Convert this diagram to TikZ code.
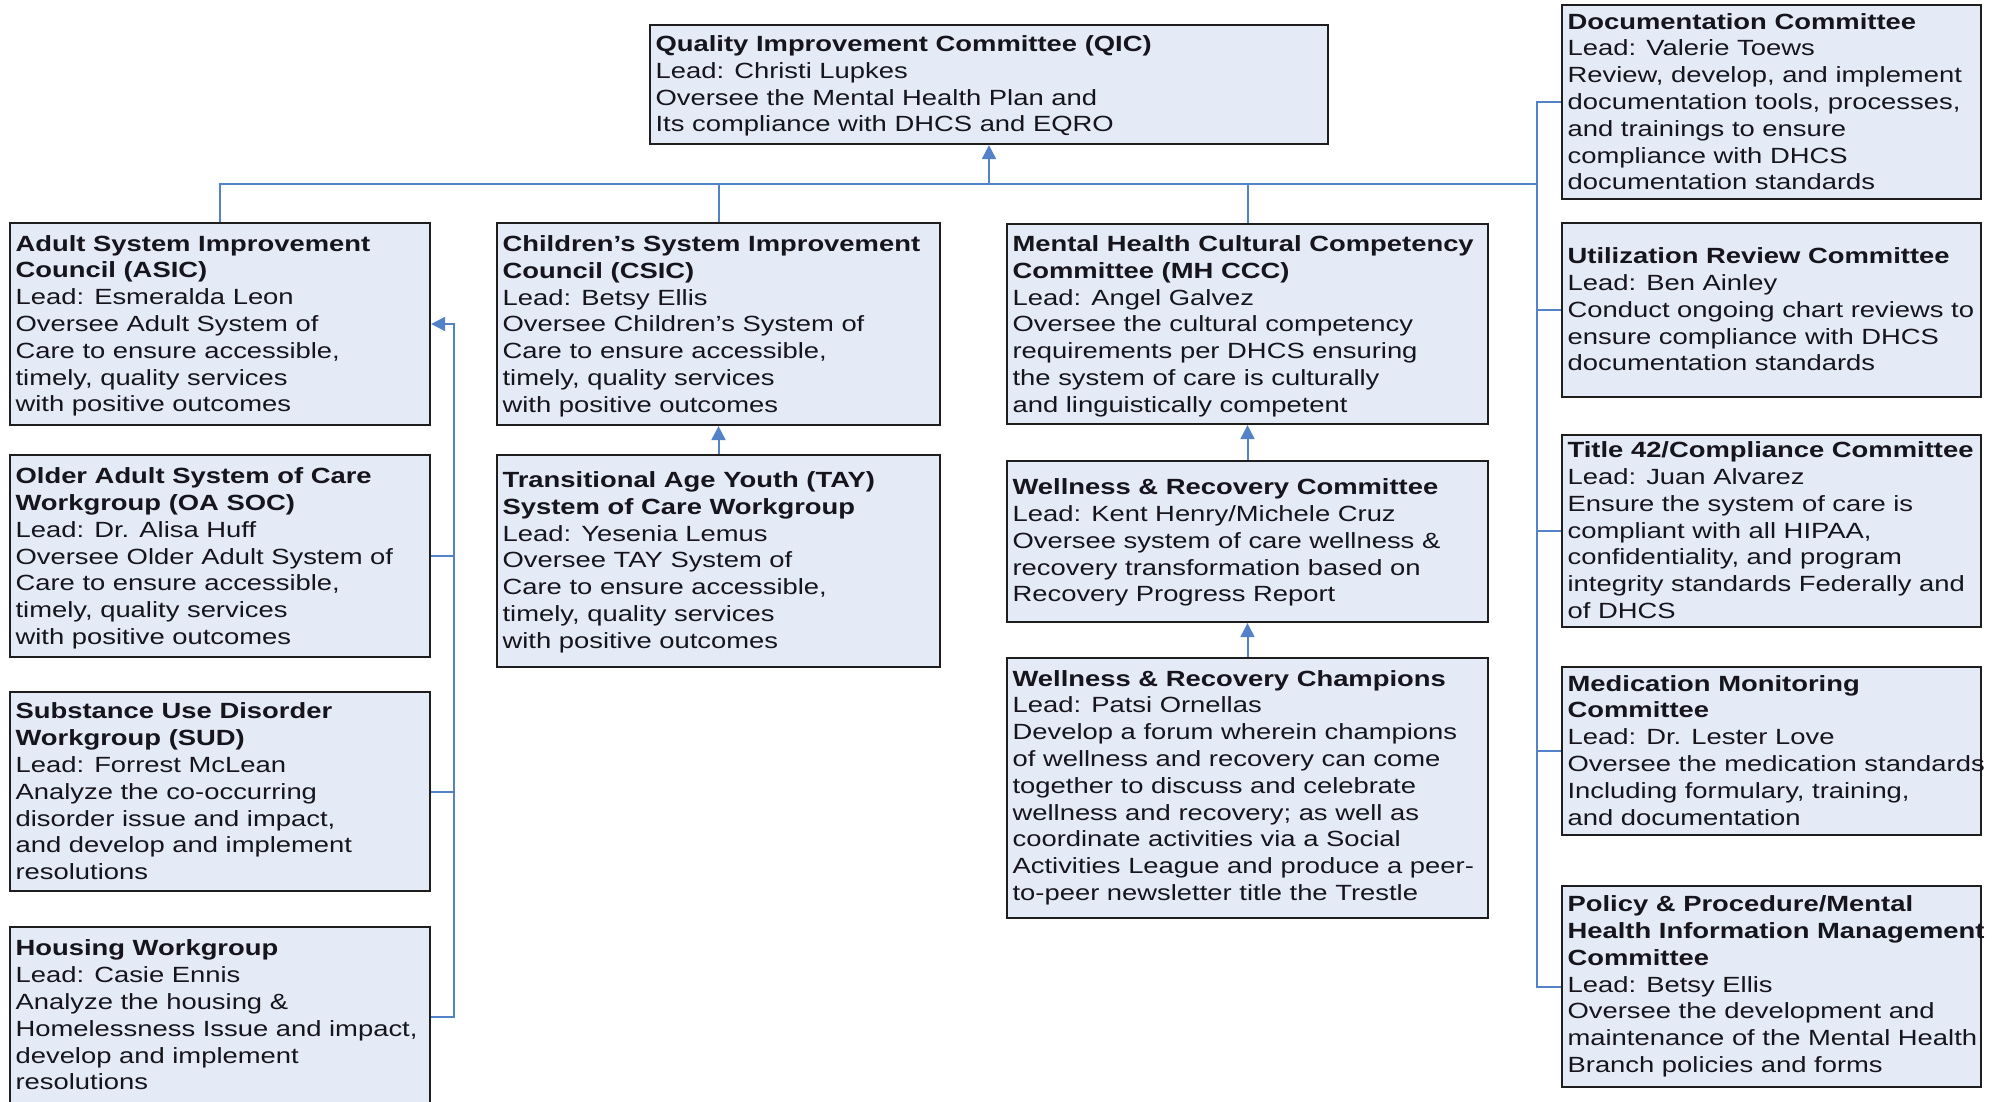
\documentclass[tikz,border=0pt]{standalone}
\usepackage{fontspec}
\setmainfont[FakeStretch=1.245]{Liberation Sans}
\usetikzlibrary{arrows.meta,calc}
\definecolor{boxfill}{RGB}{229,235,246}
\definecolor{conn}{RGB}{84,130,200}
\definecolor{boxline}{RGB}{30,30,30}
\definecolor{ink}{RGB}{22,20,28}
\tikzset{
  orgbox/.style={draw=boxline, fill=boxfill, line width=2.2pt, inner sep=0pt, rectangle},
  orgtxt/.style={inner sep=0pt, align=left, font=\fontsize{22}{26.8}\selectfont, text=ink, anchor=north west},
  conline/.style={draw=conn, line width=2pt},
  arr/.style={conline, -{Triangle[length=14pt,width=14pt]}},
}
% #1 name, #2 x1, #3 y1, #4 x2, #5 y2, #6 first baseline offset, #7 text
\newcommand\orgnode[7]{%
  \node[orgbox, minimum width={#4-#2}, minimum height={#5-#3}] (#1) at ({(#2+#4)/2},{(#3+#5)/2}) {};
  \node[orgtxt] (#1-t) at ($(#1.north west)+(6.5,0)$) {\rule{0pt}{#6pt}#7};
}
\begin{document}
\begin{tikzpicture}[x=1pt,y=-1pt]
\useasboundingbox (0,0) rectangle (1996,1102);

\orgnode{QIC}{650}{25}{1328}{144}{27.5}{\textbf{Quality Improvement Committee (QIC)}\\Lead: Christi Lupkes\\Oversee the Mental Health Plan and\\Its compliance with DHCS and EQRO}

\orgnode{ASIC}{10}{223}{430}{425}{29}{\textbf{Adult System Improvement}\\\textbf{Council (ASIC)}\\Lead: Esmeralda Leon\\Oversee Adult System of\\Care to ensure accessible,\\timely, quality services\\with positive outcomes}

\orgnode{OASOC}{10}{455}{430}{657}{29.5}{\textbf{Older Adult System of Care}\\\textbf{Workgroup (OA SOC)}\\Lead: Dr. Alisa Huff\\Oversee Older Adult System of\\Care to ensure accessible,\\timely, quality services\\with positive outcomes}

\orgnode{SUD}{10}{692}{430}{891}{27.8}{\textbf{Substance Use Disorder}\\\textbf{Workgroup (SUD)}\\Lead: Forrest McLean\\Analyze the co-occurring\\disorder issue and impact,\\and develop and implement\\resolutions}

\orgnode{HOUS}{10}{927}{430}{1106}{29.8}{\textbf{Housing Workgroup}\\Lead: Casie Ennis\\Analyze the housing \&\\Homelessness Issue and impact,\\develop and implement\\resolutions}

\orgnode{CSIC}{497}{223}{940}{425}{29.4}{\textbf{Children’s System Improvement}\\\textbf{Council (CSIC)}\\Lead: Betsy Ellis\\Oversee Children’s System of\\Care to ensure accessible,\\timely, quality services\\with positive outcomes}

\orgnode{TAY}{497}{455}{940}{667}{33.4}{\textbf{Transitional Age Youth (TAY)}\\\textbf{System of Care Workgroup}\\Lead: Yesenia Lemus\\Oversee TAY System of\\Care to ensure accessible,\\timely, quality services\\with positive outcomes}

\orgnode{MHCCC}{1007}{224}{1488}{424}{28.3}{\textbf{Mental Health Cultural Competency}\\\textbf{Committee (MH CCC)}\\Lead: Angel Galvez\\Oversee the cultural competency\\requirements per DHCS ensuring\\the system of care is culturally\\and linguistically competent}

\orgnode{WRC}{1007}{461}{1488}{622}{34.5}{\textbf{Wellness \& Recovery Committee}\\Lead: Kent Henry/Michele Cruz\\Oversee system of care wellness \&\\recovery transformation based on\\Recovery Progress Report}

\orgnode{CHAMP}{1007}{658}{1488}{918}{29}{\textbf{Wellness \& Recovery Champions}\\Lead: Patsi Ornellas\\Develop a forum wherein champions\\of wellness and recovery can come\\together to discuss and celebrate\\wellness and recovery; as well as\\coordinate activities via a Social\\Activities League and produce a peer-\\to-peer newsletter title the Trestle}

\orgnode{DOC}{1562}{5}{1981}{199}{25}{\textbf{Documentation Committee}\\Lead: Valerie Toews\\Review, develop, and implement\\documentation tools, processes,\\and trainings to ensure\\compliance with DHCS\\documentation standards}

\orgnode{UTIL}{1562}{223}{1981}{397}{41.5}{\textbf{Utilization Review Committee}\\Lead: Ben Ainley\\Conduct ongoing chart reviews to\\ensure compliance with DHCS\\documentation standards}

\orgnode{T42}{1562}{435}{1981}{627}{23.5}{\textbf{Title 42/Compliance Committee}\\Lead: Juan Alvarez\\Ensure the system of care is\\compliant with all HIPAA,\\confidentiality, and program\\integrity standards Federally and\\of DHCS}

\orgnode{MED}{1562}{667}{1981}{835}{25}{\textbf{Medication Monitoring}\\\textbf{Committee}\\Lead: Dr. Lester Love\\Oversee the medication standards\\Including formulary, training,\\and documentation}

\orgnode{POL}{1562}{886}{1981}{1087}{26.5}{\textbf{Policy \& Procedure/Mental}\\\textbf{Health Information Management}\\\textbf{Committee}\\Lead: Betsy Ellis\\Oversee the development and\\maintenance of the Mental Health\\Branch policies and forms}

% junction coordinates
\coordinate (j) at ($(QIC.south)+(0,40)$);
\coordinate (rx) at (1537,184);
\coordinate (lx) at (454,0);

% top tree
\draw[arr] (j) -- (QIC.south);
\draw[conline] (ASIC.north) |- (rx);
\draw[conline] (CSIC.north) -- (CSIC.north |- j);
\draw[conline] (MHCCC.north) -- (MHCCC.north |- j);

% right bracket
\draw[conline] (DOC.west) -| (rx |- POL.west) -- (POL.west);
\draw[conline] (UTIL.west) -- (rx |- UTIL.west);
\draw[conline] (T42.west) -- (rx |- T42.west);
\draw[conline] (MED.west) -- (rx |- MED.west);

% left bracket
\draw[arr] (HOUS.east) -| (lx |- ASIC.east) -- (ASIC.east);
\draw[conline] (OASOC.east) -- (lx |- OASOC.east);
\draw[conline] (SUD.east) -- (lx |- SUD.east);

% vertical chains
\draw[arr] (TAY.north) -- (CSIC.south);
\draw[arr] (WRC.north) -- (MHCCC.south);
\draw[arr] (CHAMP.north) -- (WRC.south);
\end{tikzpicture}
\end{document}
